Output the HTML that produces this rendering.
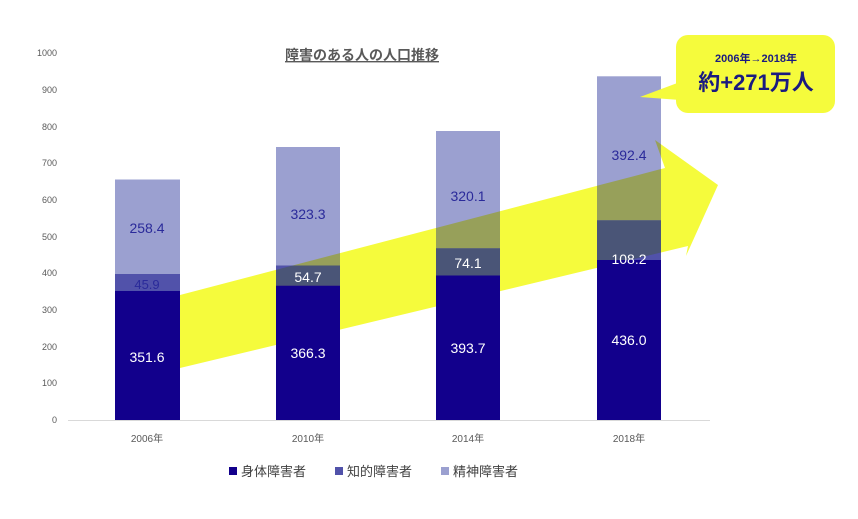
<!DOCTYPE html>
<html><head><meta charset="utf-8"><style>
body{margin:0;background:#fff;width:858px;height:514px;overflow:hidden}
text{font-family:"Liberation Sans","Noto Sans CJK JP",sans-serif}
</style></head><body>
<svg width="858" height="514" viewBox="0 0 858 514">
<defs>
<clipPath id="cl"><rect x="115" y="179.5" width="65" height="95"/><rect x="276" y="147" width="64" height="118.5"/><rect x="436" y="131" width="64" height="117.3"/><rect x="597" y="76.3" width="64" height="144"/></clipPath>
<clipPath id="cm"><rect x="115" y="274" width="65" height="17"/><rect x="276" y="265.5" width="64" height="20.1"/><rect x="436" y="248.3" width="64" height="27.2"/><rect x="597" y="220.3" width="64" height="39.7"/></clipPath>
</defs>
<g font-size="9" fill="#595959" text-anchor="end">
<text x="57" y="56">1000</text><text x="57" y="93">900</text><text x="57" y="130">800</text><text x="57" y="166">700</text><text x="57" y="203">600</text><text x="57" y="240">500</text><text x="57" y="276">400</text><text x="57" y="313">300</text><text x="57" y="350">200</text><text x="57" y="386">100</text><text x="57" y="423">0</text>
</g>
<line x1="68" y1="420.5" x2="710" y2="420.5" stroke="#d9d9d9"/>
<text x="362" y="60" font-size="14" font-weight="bold" fill="#595959" text-anchor="middle" text-decoration="underline">障害のある人の人口推移</text>
<polygon id="ar" points="180,295 665,168 655,140 718,185 686,256 688,246 180,368" fill="#f5fb3c"/>
<g fill="#9ba0d0"><rect x="115" y="179.5" width="65" height="95"/><rect x="276" y="147" width="64" height="118.5"/><rect x="436" y="131" width="64" height="117.3"/><rect x="597" y="76.3" width="64" height="144"/></g>
<g fill="#5152aa"><rect x="115" y="274" width="65" height="17"/><rect x="276" y="265.5" width="64" height="20.1"/><rect x="436" y="248.3" width="64" height="27.2"/><rect x="597" y="220.3" width="64" height="39.7"/></g>
<polygon points="180,295 665,168 655,140 718,185 686,256 688,246 180,368" fill="#97a05a" clip-path="url(#cl)"/>
<polygon points="180,295 665,168 655,140 718,185 686,256 688,246 180,368" fill="#4a5577" clip-path="url(#cm)"/>
<g fill="#12008c"><rect x="115" y="291" width="65" height="129"/><rect x="276" y="285.6" width="64" height="134.4"/><rect x="436" y="275.5" width="64" height="144.5"/><rect x="597" y="260" width="64" height="160"/></g>
<g font-size="14" text-anchor="middle">
<g fill="#2a2a9a"><text x="147" y="233">258.4</text><text x="308" y="219">323.3</text><text x="468" y="201">320.1</text><text x="629" y="160">392.4</text><text x="147" y="289" font-size="13">45.9</text></g>
<g fill="#fff"><text x="308" y="282">54.7</text><text x="468" y="268">74.1</text><text x="629" y="264">108.2</text>
<text x="147" y="362">351.6</text><text x="308" y="358">366.3</text><text x="468" y="353">393.7</text><text x="629" y="345">436.0</text></g>
</g>
<g font-size="10" fill="#595959" text-anchor="middle">
<text x="147" y="442">2006年</text><text x="308" y="442">2010年</text><text x="468" y="442">2014年</text><text x="629" y="442">2018年</text>
</g>
<g font-size="13" fill="#404040">
<rect x="229" y="467" width="8" height="8" fill="#12008c"/><text x="241" y="476">身体障害者</text>
<rect x="335" y="467" width="8" height="8" fill="#5152aa"/><text x="347" y="476">知的障害者</text>
<rect x="441" y="467" width="8" height="8" fill="#9ba0d0"/><text x="453" y="476">精神障害者</text>
</g>
<polygon points="640,97 680,82 680,100" fill="#f5fb3c"/>
<rect x="676" y="35" width="159" height="78" rx="12" fill="#f5fb3c"/>
<text x="756" y="62" font-size="11" font-weight="bold" fill="#1a1a80" text-anchor="middle">2006年→2018年</text>
<text x="756" y="90" font-size="22" font-weight="bold" fill="#1a1a80" text-anchor="middle">約+271万人</text>
</svg>
</body></html>
